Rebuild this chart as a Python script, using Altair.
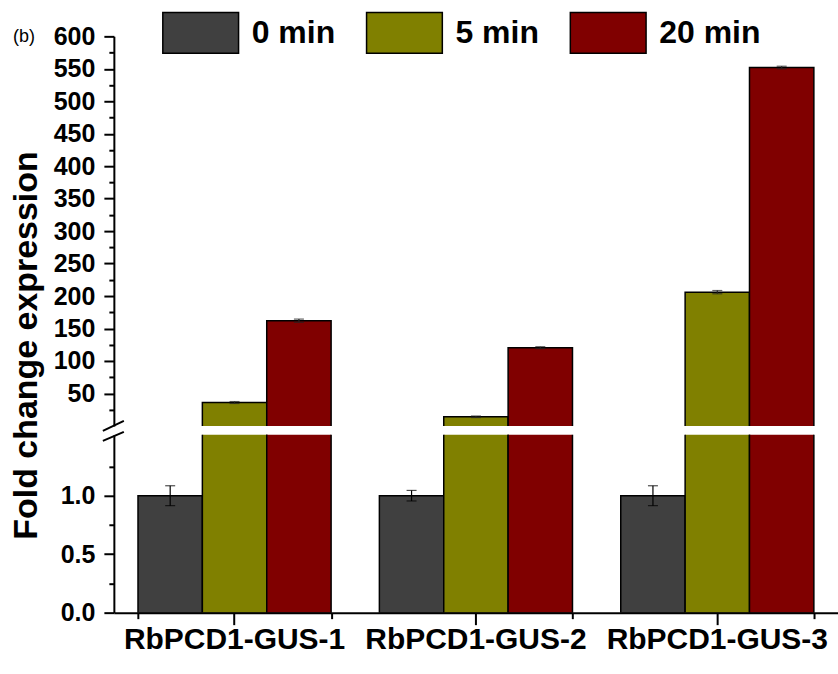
import altair as alt
import pandas as pd

# ---- data ----
groups = ["RbPCD1-GUS-1", "RbPCD1-GUS-2", "RbPCD1-GUS-3"]
times = ["0 min", "5 min", "20 min"]
colors = ["#404040", "#808000", "#800000"]
values_0 = [1.0, 1.0, 1.0]
errors_0 = [0.085, 0.045, 0.085]
values_5 = [36, 14, 206]
errors_5 = [1.5, 1.2, 2.5]
values_20 = [162, 120.5, 552]
errors_20 = [2.5, 1.5, 2.0]

FONT = "Liberation Sans"

rows = []
for t, vals, errs in [("0 min", values_0, errors_0), ("5 min", values_5, errors_5), ("20 min", values_20, errors_20)]:
    for g, v, e in zip(groups, vals, errs):
        rows.append({"group": g, "time": t, "value": v, "lo": v - e, "hi": v + e})
df = pd.DataFrame(rows)
label_df = pd.DataFrame({"t": ["(b)"]})

W = 725
H_UP = 390
H_LO = 178
GAP = 9

x_scale = alt.Scale(paddingInner=0.2, paddingOuter=0.1)
xoff = alt.XOffset("time:N", sort=times, scale=alt.Scale(paddingInner=0, paddingOuter=0))
color_scale = alt.Scale(domain=times, range=colors)
up_scale = alt.Scale(domain=[0, 600], nice=False, zero=False)
lo_scale = alt.Scale(domain=[0, 1.52], nice=False)

# ---------------- upper panel ----------------
up_y_axis = alt.Axis(
    values=list(range(25, 601, 25)),
    labelExpr="datum.value % 50 === 0 ? datum.label : ''",
    tickSize={"condition": {"test": "datum.value % 50 === 0", "value": 10}, "value": 5},
    labelOverlap=False, labelBound=False, labelFlush=False,
    title="Fold change expression",
    titleFont=FONT, titleFontSize=34, titleFontWeight="bold", titleColor="black",
    titleX=-77, titleY=309, titleAngle=270, titleBaseline="alphabetic", titleAlign="center",
    labelFont=FONT, labelFontSize=25, labelFontWeight="bold", labelColor="black", labelPadding=9,
    domainColor="black", domainWidth=2, tickColor="black", tickWidth=2, grid=False,
)
# minor x ticks at band edges, drawn by the upper panel's x axis pushed down onto the lower baseline
up_x_axis = alt.Axis(
    orient="bottom", offset=H_LO + GAP, tickBand="extent", labels=False, domain=False,
    tickSize=6, tickWidth=2, tickColor="black", title=None, grid=False,
)
up_x = alt.X("group:N", sort=groups, scale=x_scale, axis=up_x_axis)

up_base = alt.Chart(df)
up_bars = up_base.transform_filter("datum.value > 1.5").mark_bar(
    stroke="black", strokeWidth=1.5, clip=True
).encode(
    x=up_x,
    xOffset=xoff,
    y=alt.Y("value:Q", scale=up_scale, axis=up_y_axis),
    y2=alt.datum(-20),
    color=alt.Color(
        "time:N", sort=times, scale=color_scale,
        legend=alt.Legend(
            title=None, orient="none", direction="horizontal", legendX=48, legendY=-25,
            symbolType="M-1,-1H2.7V1H-1Z", symbolSize=1681,
            symbolStrokeColor="black", symbolStrokeWidth=1.5, symbolOpacity=1,
            labelFont=FONT, labelFontSize=32, labelFontWeight="bold", labelColor="black",
            labelOffset=47, columnPadding=28, padding=0,
        ),
    ),
)
up_err = up_base.transform_filter("datum.time !== '0 min'")
up_rule = up_err.mark_rule(color="#222", strokeWidth=1.2).encode(
    x=up_x, xOffset=xoff, y=alt.Y("lo:Q", scale=up_scale, axis=up_y_axis), y2="hi:Q")
up_tick_lo = up_err.mark_tick(color="#222", size=10, thickness=1.2).encode(
    x=up_x, xOffset=xoff, y=alt.Y("lo:Q", scale=up_scale, axis=up_y_axis))
up_tick_hi = up_err.mark_tick(color="#222", size=10, thickness=1.2).encode(
    x=up_x, xOffset=xoff, y=alt.Y("hi:Q", scale=up_scale, axis=up_y_axis))
b_text = alt.Chart(label_df).mark_text(
    align="left", baseline="middle", font=FONT, fontSize=18, color="black"
).encode(text="t:N", x=alt.value(-101), y=alt.value(1))

upper = alt.layer(up_bars, up_rule, up_tick_lo, up_tick_hi, b_text).properties(width=W, height=H_UP)

# ---------------- lower panel ----------------
lo_y_axis = alt.Axis(
    values=[0, 0.25, 0.5, 0.75, 1.0, 1.25],
    labelExpr="round(datum.value*4) % 2 === 0 ? format(datum.value, '.1f') : ''",
    tickSize={"condition": {"test": "round(datum.value*4) % 2 === 0", "value": 10}, "value": 5},
    labelOverlap=False, labelBound=False, labelFlush=False,
    title=None,
    labelFont=FONT, labelFontSize=25, labelFontWeight="bold", labelColor="black", labelPadding=9,
    domainColor="black", domainWidth=2, tickColor="black", tickWidth=2, grid=False,
)
lo_x_axis = alt.Axis(
    title=None, labelFont=FONT, labelFontSize=30, labelFontWeight="bold", labelColor="black",
    labelAngle=0, labelPadding=0, labelLimit=0, labelOverlap=False, tickSize=12, tickWidth=2,
    tickColor="black", domainColor="black", domainWidth=2, grid=False,
)
lo_x = alt.X("group:N", sort=groups, scale=x_scale, axis=lo_x_axis)
lo_base = alt.Chart(df)
lo_bars = lo_base.mark_bar(stroke="black", strokeWidth=1.5, clip=True).encode(
    x=lo_x,
    xOffset=xoff,
    y=alt.Y("value:Q", scale=lo_scale, axis=lo_y_axis),
    color=alt.Color("time:N", sort=times, scale=color_scale, legend=None),
)
lo_err = lo_base.transform_filter("datum.time === '0 min'")
lo_rule = lo_err.mark_rule(color="black", strokeWidth=1.2).encode(
    x=lo_x, xOffset=xoff, y=alt.Y("lo:Q", scale=lo_scale, axis=lo_y_axis), y2="hi:Q")
lo_tick_lo = lo_err.mark_tick(color="black", size=10, thickness=1.2).encode(
    x=lo_x, xOffset=xoff, y=alt.Y("lo:Q", scale=lo_scale, axis=lo_y_axis))
lo_tick_hi = lo_err.mark_tick(color="black", size=10, thickness=1.2).encode(
    x=lo_x, xOffset=xoff, y=alt.Y("hi:Q", scale=lo_scale, axis=lo_y_axis))
brk1 = alt.Chart(label_df).mark_rule(color="black", strokeWidth=2).encode(
    x=alt.value(-11), x2=alt.value(10), y=alt.value(-4), y2=alt.value(-14))
brk2 = alt.Chart(label_df).mark_rule(color="black", strokeWidth=2).encode(
    x=alt.value(-11), x2=alt.value(10), y=alt.value(6), y2=alt.value(-3))

lower = alt.layer(lo_bars, lo_rule, lo_tick_lo, lo_tick_hi, brk1, brk2).properties(width=W, height=H_LO)

chart = alt.vconcat(upper, lower, spacing=GAP).resolve_scale(color="independent").properties(
    bounds="flush", padding={"left": 10, "top": 11, "right": 0, "bottom": 0}
).configure(background="white", view=alt.ViewConfig(strokeWidth=0))

chart.save("out.html", embed_options={"renderer": "svg", "actions": False})
